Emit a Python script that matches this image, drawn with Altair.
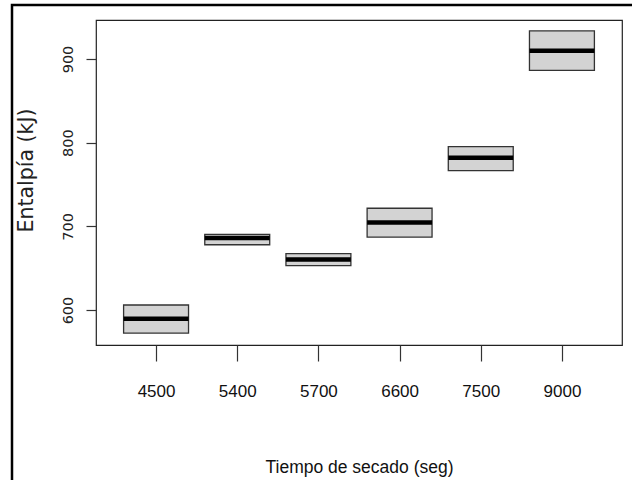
import altair as alt
import pandas as pd

# Data
tiempos = ["4500", "5400", "5700", "6600", "7500", "9000"]
q1 = [572.5, 678.0, 653.0, 687.0, 766.5, 886.5]
mediana = [589.5, 686.0, 660.5, 704.5, 782.0, 910.0]
q3 = [606.0, 690.5, 667.3, 721.6, 795.2, 933.5]
y_ticks = [600, 700, 800, 900]

df = pd.DataFrame({
    "tiempo": tiempos,
    "pos": list(range(1, len(tiempos) + 1)),
    "q1": q1,
    "med": mediana,
    "q3": q3,
})

W, H = 526, 325

xscale = alt.Scale(domain=[0.26, 6.74], nice=False, zero=False)
yscale = alt.Scale(domain=[558.2, 946.6], nice=False, zero=False)

label_expr = "[" + ",".join("'%s'" % t for t in tiempos) + "][datum.value - 1]"

base = alt.Chart(df).transform_calculate(
    x0="datum.pos - 0.4", x1="datum.pos + 0.4"
)

x_axis = alt.Axis(
    values=list(range(1, len(tiempos) + 1)),
    labelExpr=label_expr,
    title="Tiempo de secado (seg)",
    grid=False,
    domain=False,
    tickSize=16,
    tickColor="#333333",
    tickWidth=1.2,
    labelFont="Liberation Sans",
    labelFontSize=17,
    labelColor="#111111",
    labelPadding=22,
    labelBaseline="top",
    titleFont="Liberation Sans",
    titleFontSize=17.5,
    titleFontWeight="normal",
    titleColor="#111111",
    titleBaseline="alphabetic",
    titleY=127,
    titleX=W / 2,
    titleAlign="center",
)

y_axis = alt.Axis(
    values=y_ticks,
    title="Entalpía (kJ)",
    grid=False,
    domain=False,
    tickSize=10,
    tickColor="#333333",
    tickWidth=1.2,
    labelAngle=270,
    labelAlign="center",
    labelBaseline="alphabetic",
    labelPadding=14,
    labelFont="DejaVu Sans",
    labelFontSize=14.5,
    labelColor="#222222",
    titleFont="DejaVu Sans",
    titleFontSize=20.5,
    titleFontWeight="normal",
    titleColor="#222222",
    titleAngle=270,
    titleAlign="center",
    titleBaseline="alphabetic",
    titleX=-64,
    titleY=150,
)

boxes = base.mark_rect(fill="#d3d3d3", stroke="#333333", strokeWidth=1.3).encode(
    x=alt.X("x0:Q", scale=xscale, axis=x_axis),
    x2="x1:Q",
    y=alt.Y("q1:Q", scale=yscale, axis=y_axis),
    y2="q3:Q",
)

medians = base.mark_rule(color="black", strokeWidth=4.5).encode(
    x=alt.X("x0:Q", scale=xscale),
    x2="x1:Q",
    y=alt.Y("med:Q", scale=yscale),
)

frame = alt.Chart(df.head(1)).mark_rect(
    fill="transparent", stroke="black", strokeWidth=2.5
).encode(
    x=alt.value(-84), x2=alt.value(560),
    y=alt.value(-15), y2=alt.value(500),
)

chart = alt.layer(frame, boxes, medians).properties(
    width=W,
    height=H,
    autosize=alt.AutoSizeParams(type="none"),
    padding={"left": 96, "top": 20, "right": 10, "bottom": 135},
    background="white",
).configure_view(
    stroke="#222222", strokeWidth=1.2
)

chart.save("out.html", embed_options={"renderer": "svg", "actions": False})
